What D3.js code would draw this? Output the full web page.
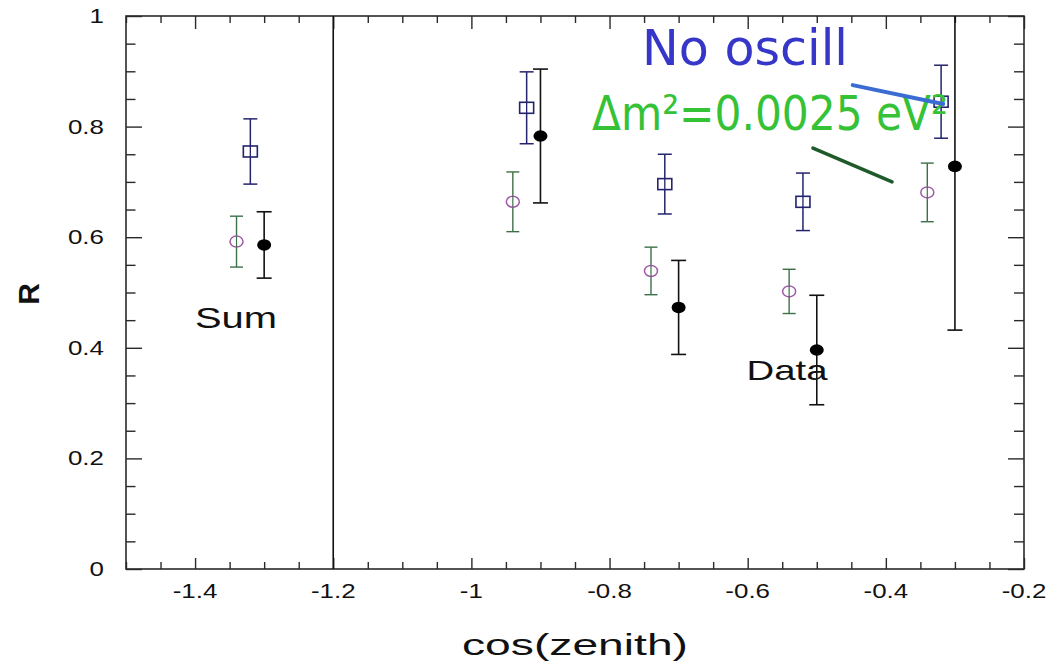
<!DOCTYPE html>
<html>
<head>
<meta charset="utf-8">
<script src="https://cdn.jsdelivr.net/npm/d3@7"></script>
<style>
  html, body { margin: 0; padding: 0; background: #ffffff; }
  svg { display: block; }
</style>
</head>
<body>
<svg id="chart" width="1046" height="662"></svg>
<script>
// Ratio R versus cos(zenith): no-oscillation expectation, oscillation expectation, and data
const noOscX   = [-1.32, -0.92, -0.72, -0.52, -0.32];
const noOscR   = [0.755, 0.834, 0.696, 0.664, 0.845];
const noOscErr = [0.059, 0.065, 0.054, 0.052, 0.066];

const oscX   = [-1.34, -0.94, -0.74, -0.54, -0.34];
const oscR   = [0.592, 0.664, 0.539, 0.502, 0.681];
const oscErr = [0.046, 0.054, 0.043, 0.040, 0.053];

const dataX   = [-1.30, -0.90, -0.70, -0.50, -0.30];
const dataR   = [0.586, 0.783, 0.473, 0.396, 0.728];
const dataErr = [0.060, 0.121, 0.085, 0.099, 0.296];

const xMajorTicks = [-1.4, -1.2, -1.0, -0.8, -0.6, -0.4, -0.2];
const xTickLabels = ["-1.4", "-1.2", "-1", "-0.8", "-0.6", "-0.4", "-0.2"];
const yMajorTicks = [0, 0.2, 0.4, 0.6, 0.8, 1.0];
const yTickLabels = ["0", "0.2", "0.4", "0.6", "0.8", "1"];

// Pointer strokes from the two legend texts to the curves (cos, R)
const noOscPointer = [[-0.448, 0.875], [-0.317, 0.841]];
const oscPointer   = [[-0.5055, 0.761], [-0.391, 0.700]];

const svg = d3.select("#chart");
const L = 126, R = 1024, T = 16, B = 569;

const x = d3.scaleLinear().domain([-1.5, -0.2]).range([L, R]);
const y = d3.scaleLinear().domain([0, 1]).range([B, T]);

const xMinor = d3.range(-1.5, -0.2 + 1e-9, 0.05).map(v => +v.toFixed(2))
  .filter(v => !xMajorTicks.some(m => Math.abs(m - v) < 1e-6));
const yMinor = d3.range(0, 1 + 1e-9, 0.05).map(v => +v.toFixed(2))
  .filter(v => !yMajorTicks.some(m => Math.abs(m - v) < 1e-6));

const axisColor = "#2a2a2a";
const STRETCH = 1.33;   // wide lettering of the axis text

function styleAxis(g) {
  g.select(".domain").remove();
  g.selectAll(".tick line").attr("stroke", axisColor).attr("stroke-width", 1.4);
  g.selectAll(".tick text").remove();
}

// inward ticks on all four sides
svg.append("g").attr("transform", `translate(0,${B})`)
  .call(d3.axisBottom(x).tickValues(xMajorTicks).tickSize(-11).tickFormat("")).call(styleAxis);
svg.append("g").attr("transform", `translate(0,${B})`)
  .call(d3.axisBottom(x).tickValues(xMinor).tickSize(-7).tickFormat("")).call(styleAxis);
svg.append("g").attr("transform", `translate(0,${T})`)
  .call(d3.axisTop(x).tickValues(xMajorTicks).tickSize(-13).tickFormat("")).call(styleAxis);
svg.append("g").attr("transform", `translate(0,${T})`)
  .call(d3.axisTop(x).tickValues(xMinor).tickSize(-7).tickFormat("")).call(styleAxis);
svg.append("g").attr("transform", `translate(${L},0)`)
  .call(d3.axisLeft(y).tickValues(yMajorTicks).tickSize(-16).tickFormat("")).call(styleAxis);
svg.append("g").attr("transform", `translate(${L},0)`)
  .call(d3.axisLeft(y).tickValues(yMinor).tickSize(-9.5).tickFormat("")).call(styleAxis);
svg.append("g").attr("transform", `translate(${R},0)`)
  .call(d3.axisRight(y).tickValues(yMajorTicks).tickSize(-16).tickFormat("")).call(styleAxis);
svg.append("g").attr("transform", `translate(${R},0)`)
  .call(d3.axisRight(y).tickValues(yMinor).tickSize(-10).tickFormat("")).call(styleAxis);

// frame
svg.append("rect")
  .attr("x", L).attr("y", T).attr("width", R - L).attr("height", B - T)
  .attr("fill", "none").attr("stroke", axisColor).attr("stroke-width", 1.6);

// separator between the summed bin and the zenith bins
svg.append("line")
  .attr("x1", x(-1.2)).attr("x2", x(-1.2)).attr("y1", y(1)).attr("y2", y(0))
  .attr("stroke", "#111").attr("stroke-width", 1.6);

// tick labels
const labelFont = "'Liberation Sans', Arial, Helvetica, sans-serif";
svg.append("g").selectAll("text").data(xMajorTicks).join("text")
  .attr("transform", d => `translate(${x(d)},598) scale(${STRETCH},1)`)
  .attr("text-anchor", "middle")
  .attr("font-family", labelFont).attr("font-size", 19.5).attr("fill", "#111")
  .text((d, i) => xTickLabels[i]);

svg.append("g").selectAll("text").data(yMajorTicks).join("text")
  .attr("transform", d => `translate(104,${y(d) + 7}) scale(${STRETCH},1)`)
  .attr("text-anchor", "end")
  .attr("font-family", labelFont).attr("font-size", 19.5).attr("fill", "#111")
  .text((d, i) => yTickLabels[i]);

// axis titles
svg.append("text")
  .attr("x", 575).attr("y", 655)
  .attr("text-anchor", "middle")
  .attr("font-family", labelFont).attr("font-size", 29).attr("fill", "#111")
  .attr("textLength", 226).attr("lengthAdjust", "spacingAndGlyphs")
  .text("cos(zenith)");

svg.append("text")
  .attr("transform", "translate(39,294) rotate(-90)")
  .attr("text-anchor", "middle")
  .attr("font-family", labelFont).attr("font-size", 30).attr("font-weight", "bold").attr("fill", "#111")
  .text("R");

// plot area clip for error bars
svg.append("defs").append("clipPath").attr("id", "plotClip")
  .append("rect").attr("x", L).attr("y", T).attr("width", R - L).attr("height", B - T);

const plot = svg.append("g").attr("clip-path", "url(#plotClip)");

function errorBars(xs, vs, es, color, cap, width) {
  const g = plot.append("g").attr("stroke", color).attr("stroke-width", width).attr("fill", "none");
  xs.forEach((xv, i) => {
    const px = x(xv), lo = y(vs[i] - es[i]), hi = y(vs[i] + es[i]);
    g.append("line").attr("x1", px).attr("x2", px).attr("y1", lo).attr("y2", hi);
    g.append("line").attr("x1", px - cap / 2).attr("x2", px + cap / 2).attr("y1", lo).attr("y2", lo);
    g.append("line").attr("x1", px - cap / 2).attr("x2", px + cap / 2).attr("y1", hi).attr("y2", hi);
  });
}

// no-oscillation expectation: navy open squares
errorBars(noOscX, noOscR, noOscErr, "#23236e", 14, 1.5);
plot.append("g").selectAll("rect").data(noOscX).join("rect")
  .attr("x", d => x(d) - 7).attr("y", (d, i) => y(noOscR[i]) - 5.5)
  .attr("width", 14).attr("height", 11)
  .attr("fill", "#ffffff").attr("stroke", "#23236e").attr("stroke-width", 1.6);
plot.append("g").selectAll("line").data(noOscX).join("line")
  .attr("x1", d => x(d)).attr("x2", d => x(d))
  .attr("y1", (d, i) => y(noOscR[i]) - 5.5).attr("y2", (d, i) => y(noOscR[i]) + 5.5)
  .attr("stroke", "#23236e").attr("stroke-width", 1.3);

// oscillation expectation: green error bars, purple open circles
errorBars(oscX, oscR, oscErr, "#3d7048", 13, 1.4);
plot.append("g").selectAll("ellipse").data(oscX).join("ellipse")
  .attr("cx", d => x(d)).attr("cy", (d, i) => y(oscR[i]))
  .attr("rx", 6.5).attr("ry", 5.5)
  .attr("fill", "#ffffff").attr("stroke", "#a05aa8").attr("stroke-width", 1.5);
plot.append("g").selectAll("line").data(oscX).join("line")
  .attr("x1", d => x(d)).attr("x2", d => x(d))
  .attr("y1", (d, i) => y(oscR[i]) - 5.5).attr("y2", (d, i) => y(oscR[i]) + 5.5)
  .attr("stroke", "#3d7048").attr("stroke-width", 1.2);

// data: black filled dots
errorBars(dataX, dataR, dataErr, "#111111", 15, 1.6);
plot.append("g").selectAll("ellipse").data(dataX).join("ellipse")
  .attr("cx", d => x(d)).attr("cy", (d, i) => y(dataR[i]))
  .attr("rx", 7).attr("ry", 5.8)
  .attr("fill", "#000000");

// in-plot labels
svg.append("text")
  .attr("x", 236).attr("y", 328).attr("text-anchor", "middle")
  .attr("font-family", labelFont).attr("font-size", 29).attr("fill", "#111")
  .attr("textLength", 82).attr("lengthAdjust", "spacingAndGlyphs")
  .text("Sum");
svg.append("text")
  .attr("x", 787).attr("y", 380).attr("text-anchor", "middle")
  .attr("font-family", labelFont).attr("font-size", 28).attr("fill", "#111")
  .attr("textLength", 81).attr("lengthAdjust", "spacingAndGlyphs")
  .text("Data");

// legend annotations
const handFont = "'Comic Sans MS', 'DejaVu Sans', sans-serif";
svg.append("text")
  .attr("x", 642).attr("y", 65)
  .attr("font-family", handFont).attr("font-size", 50).attr("fill", "#3636c8")
  .attr("textLength", 206).attr("lengthAdjust", "spacingAndGlyphs")
  .text("No oscill");

svg.append("text")
  .attr("x", 592).attr("y", 130)
  .attr("font-family", handFont).attr("font-size", 48).attr("fill", "#36c236")
  .attr("textLength", 356).attr("lengthAdjust", "spacingAndGlyphs")
  .text("\u0394m\u00b2=0.0025 eV\u00b2");

const line = d3.line().x(d => x(d[0])).y(d => y(d[1]));
svg.append("path").attr("d", line(noOscPointer))
  .attr("stroke", "#3b6cd2").attr("stroke-width", 4).attr("fill", "none").attr("stroke-linecap", "round");
svg.append("path").attr("d", line(oscPointer))
  .attr("stroke", "#1f5a2a").attr("stroke-width", 3.5).attr("fill", "none").attr("stroke-linecap", "round");
</script>
</body>
</html>
